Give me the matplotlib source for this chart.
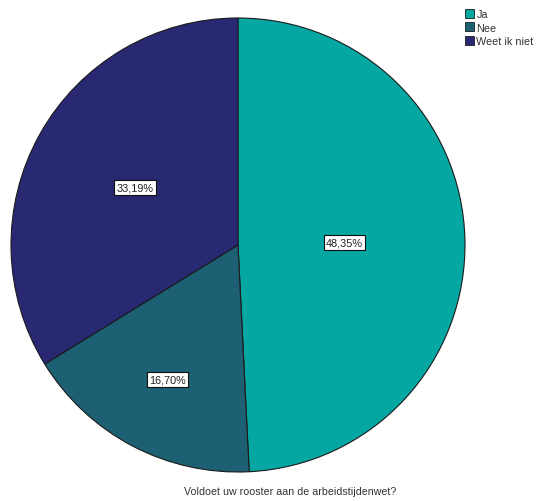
import matplotlib
matplotlib.use("Agg")
import matplotlib.pyplot as plt
from matplotlib.patches import Patch
import numpy as np

categories = ["Ja", "Nee", "Weet ik niet"]
values = [48.35, 16.70, 33.19]
labels_pct = ["48,35%", "16,70%", "33,19%"]
title = "Voldoet uw rooster aan de arbeidstijdenwet?"

colors = ["#04a7a2", "#1d5f73", "#282873"]
label_dist = [0.47, 0.67, 0.52]

plt.rcParams['font.family'] = ['Liberation Sans', 'DejaVu Sans']

fig = plt.figure(figsize=(5.37, 5.02), dpi=100)
W, H = 537, 502
cx, cy, r = 238, 246, 227
ax = fig.add_axes([(cx - r) / W, (H - cy - r) / H, 2 * r / W, 2 * r / H])

wedges, _ = ax.pie(values, colors=colors, startangle=90, counterclock=False,
                   wedgeprops=dict(edgecolor="#1a1a1a", linewidth=0.8))
ax.set_xlim(-1, 1)
ax.set_ylim(-1, 1)
ax.set_aspect('equal')
ax.axis('off')

for w, txt, d in zip(wedges, labels_pct, label_dist):
    ang = np.deg2rad((w.theta1 + w.theta2) / 2)
    ax.text(d * np.cos(ang), d * np.sin(ang), txt, ha='center', va='center',
            fontsize=7.8, color='#222222',
            bbox=dict(boxstyle='square,pad=0.2', fc='white', ec='#111111', lw=0.8))

handles = [Patch(facecolor=c, edgecolor='#1a1a1a', linewidth=0.6) for c in colors]
fig.legend(handles, categories, loc='upper left', bbox_to_anchor=(465 / W, 1 - 10 / H),
           frameon=False, fontsize=7.8, handlelength=0.8, handleheight=0.9,
           handletextpad=0.25, labelspacing=0.3, borderaxespad=0, borderpad=0,
           labelcolor='#333333')

fig.text(290 / W, 1 - 492 / H, title, ha='center', va='center', fontsize=7.7,
         color='#333333')

fig.savefig("out.png", dpi=100, facecolor='white')
